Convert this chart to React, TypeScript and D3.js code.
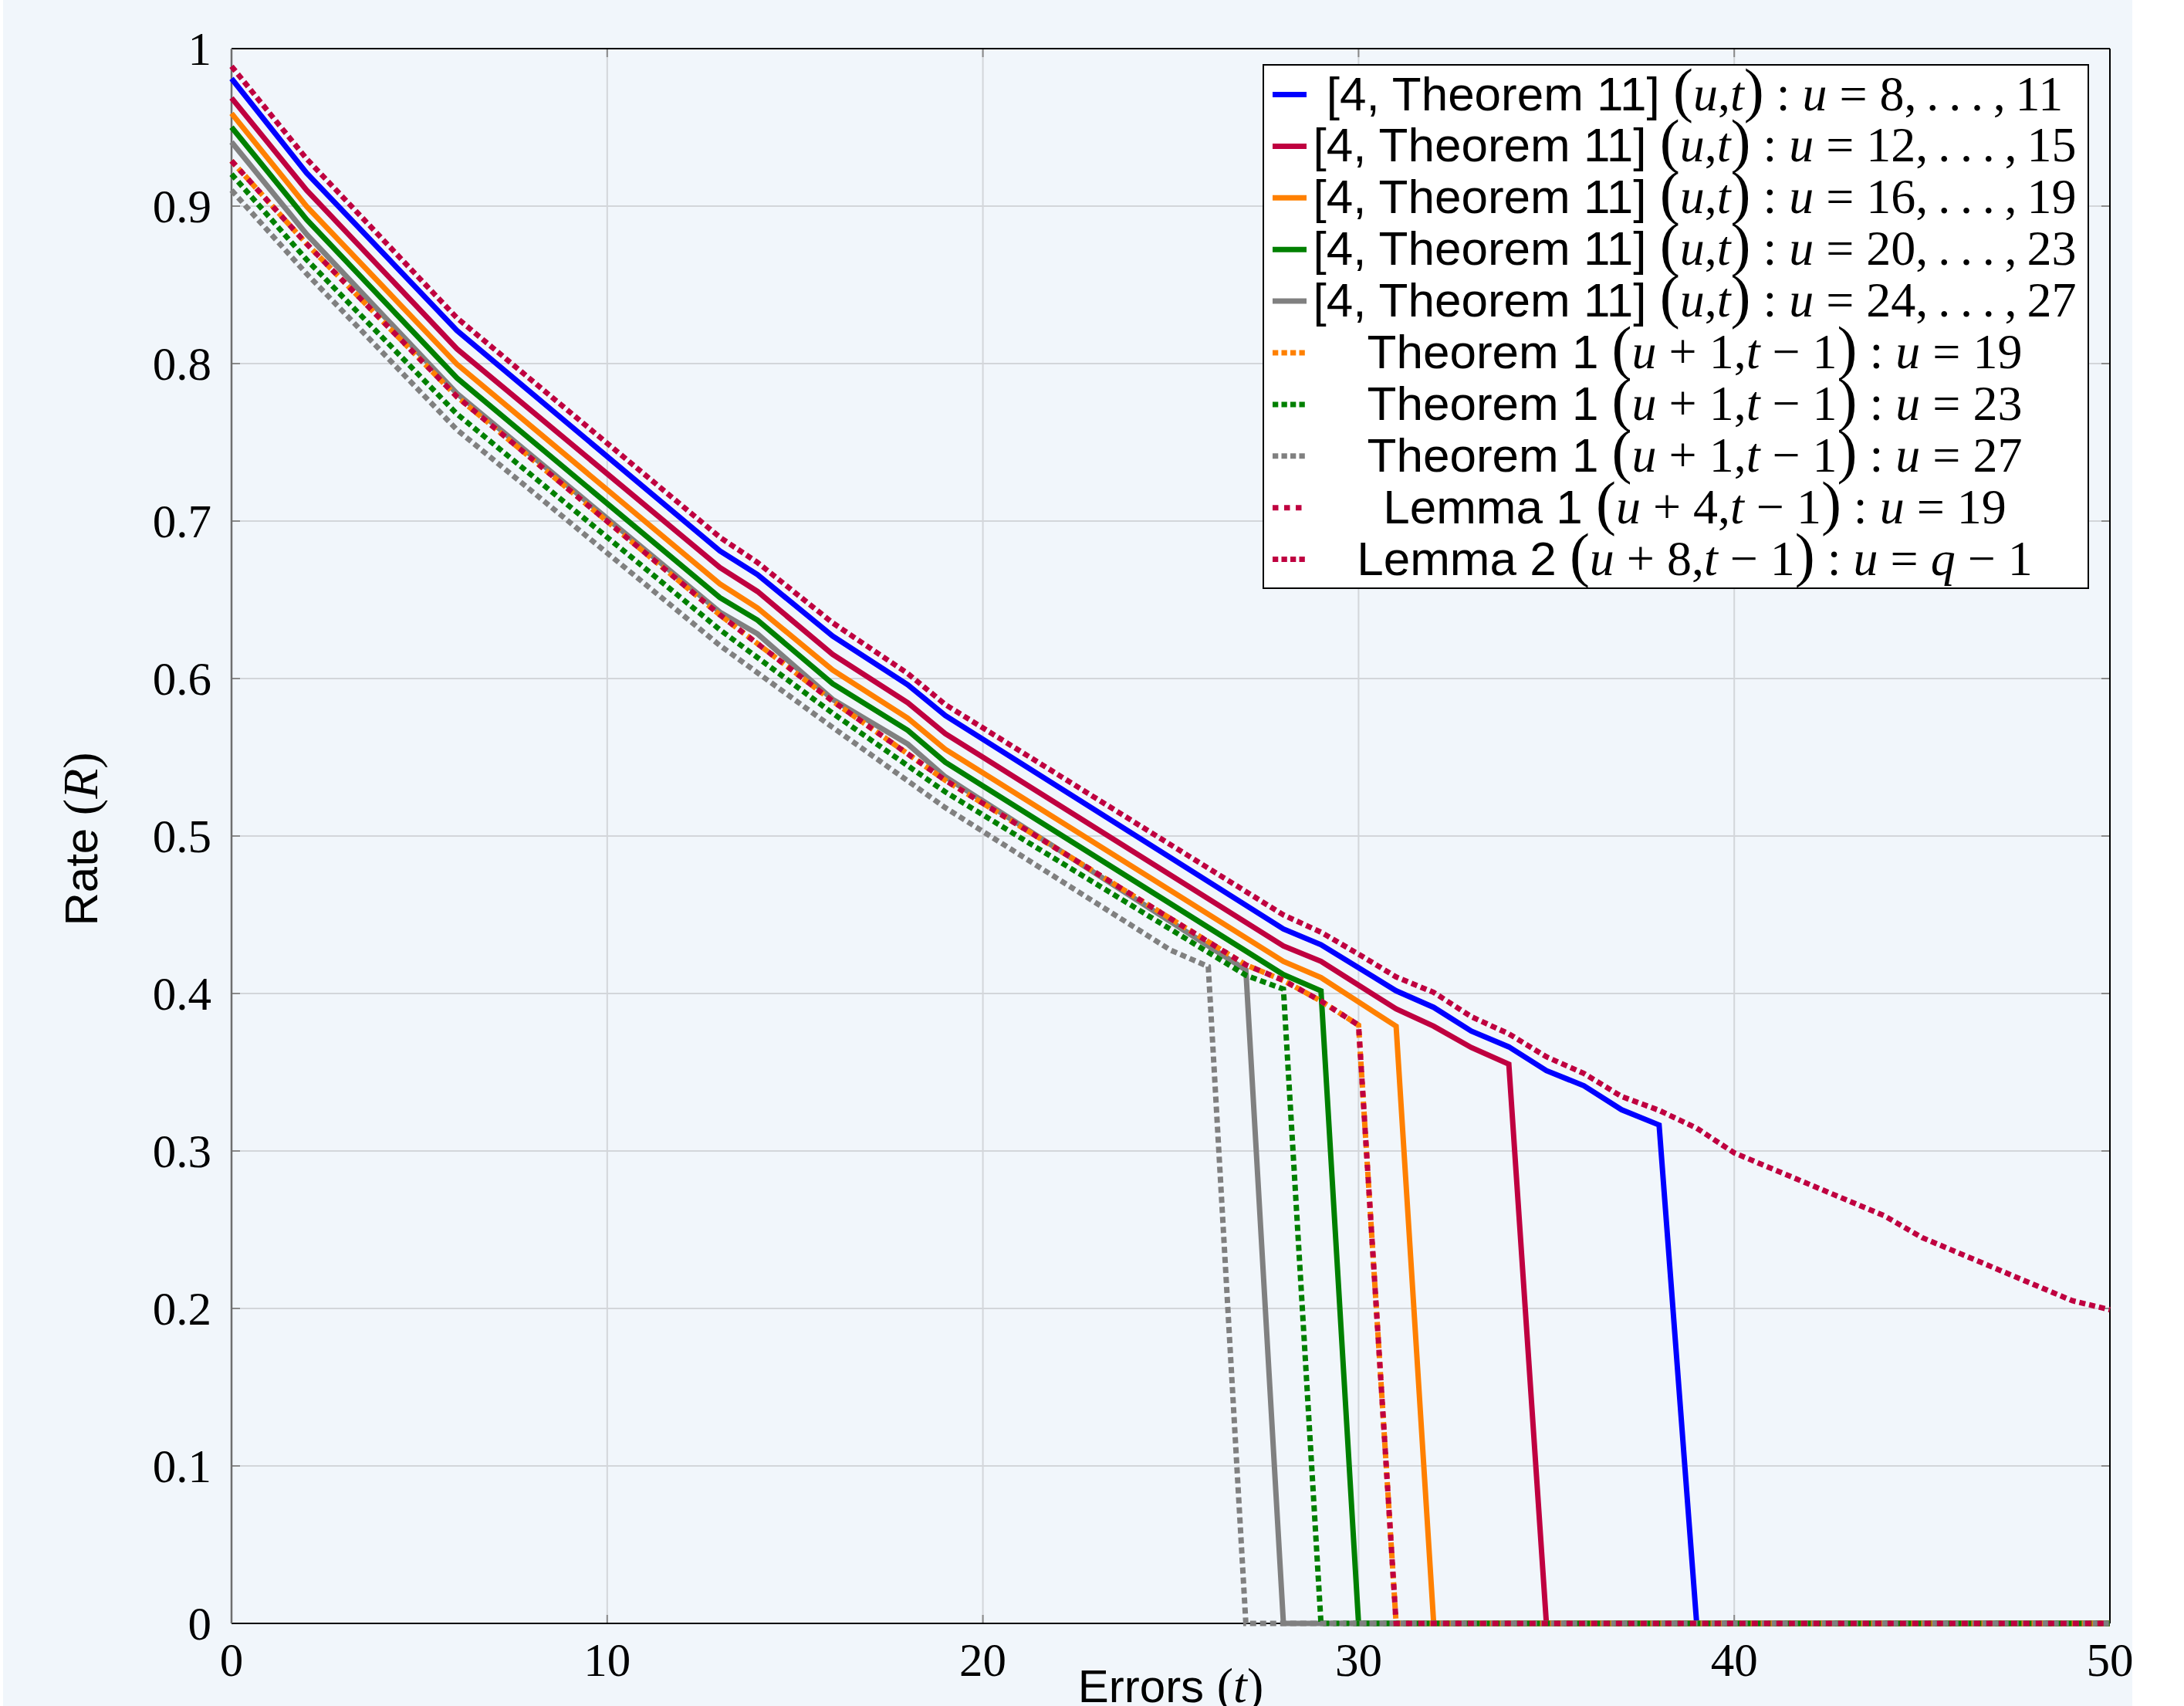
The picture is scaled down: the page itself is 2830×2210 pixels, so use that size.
import React from 'react';
import * as d3 from 'd3';

// ---- data ----
const xTickValues = [0, 10, 20, 30, 40, 50];
const xTickLabels = ['0', '10', '20', '30', '40', '50'];
const yTickValues = [0, 0.1, 0.2, 0.3, 0.4, 0.5, 0.6, 0.7, 0.8, 0.9, 1];
const yTickLabels = ['0', '0.1', '0.2', '0.3', '0.4', '0.5', '0.6', '0.7', '0.8', '0.9', '1'];

// [t, R] vertices of each polyline
const thm11U8to11: [number, number][] = [[0, 0.981], [2, 0.921], [6, 0.821], [13, 0.681], [14, 0.666], [16, 0.627], [18, 0.596], [19, 0.5765], [28, 0.441], [29, 0.431], [31, 0.4017], [32, 0.3912], [33, 0.3761], [34, 0.3661], [35, 0.351], [36, 0.3414], [37, 0.3262], [38, 0.3165], [39, 0], [50, 0]];
const thm11U12to15: [number, number][] = [[0, 0.9687], [2, 0.9101], [6, 0.8094], [13, 0.6705], [14, 0.6553], [16, 0.6153], [18, 0.5846], [19, 0.565], [28, 0.4302], [29, 0.4204], [31, 0.3902], [32, 0.3792], [33, 0.3657], [34, 0.3551], [35, 0], [50, 0]];
const thm11U16to19: [number, number][] = [[0, 0.9589], [2, 0.8998], [6, 0.7996], [13, 0.6601], [14, 0.6448], [16, 0.6054], [18, 0.5748], [19, 0.5551], [28, 0.4204], [29, 0.4101], [31, 0.3792], [32, 0], [50, 0]];
const thm11U20to23: [number, number][] = [[0, 0.9501], [2, 0.8915], [6, 0.7908], [13, 0.6514], [14, 0.6371], [16, 0.5967], [18, 0.5671], [19, 0.5468], [28, 0.412], [29, 0.4017], [30, 0], [50, 0]];
const thm11U24to27: [number, number][] = [[0, 0.9407], [2, 0.8821], [6, 0.781], [13, 0.6422], [14, 0.6284], [16, 0.5868], [18, 0.5584], [19, 0.5376], [27, 0.4149], [28, 0], [50, 0]];
const thm1U19: [number, number][] = [[0, 0.9287], [2, 0.876], [6, 0.779], [13, 0.6404], [16, 0.5857], [19, 0.5354], [27, 0.4182], [28, 0.4083], [29, 0.3952], [30, 0.3799], [31, 0], [50, 0]];
const thm1U23: [number, number][] = [[0, 0.9203], [2, 0.866], [6, 0.768], [13, 0.631], [16, 0.578], [19, 0.528], [27, 0.4116], [28, 0.4028], [29, 0], [50, 0]];
const thm1U27: [number, number][] = [[0, 0.9101], [2, 0.857], [6, 0.758], [13, 0.621], [16, 0.569], [19, 0.518], [25, 0.4275], [26, 0.4171], [27, 0], [50, 0]];
const lemma1U19: [number, number][] = [[0, 0.9287], [2, 0.876], [6, 0.779], [13, 0.6404], [16, 0.5857], [19, 0.5354], [27, 0.4182], [28, 0.4083], [29, 0.3952], [30, 0.3799], [31, 0], [50, 0]];
const lemma2: [number, number][] = [[0, 0.9888], [2, 0.93], [6, 0.829], [13, 0.6897], [14, 0.6737], [16, 0.6354], [18, 0.6032], [19, 0.5835], [28, 0.4499], [29, 0.4389], [30, 0.425], [31, 0.4105], [32, 0.4007], [33, 0.3853], [34, 0.3744], [35, 0.3598], [36, 0.3492], [37, 0.3346], [38, 0.3258], [39, 0.3145], [40, 0.2988], [44, 0.2588], [45, 0.245], [49, 0.2049], [50, 0.1992]];

type Part = [string, 's' | 'r' | 'i' | 'p'];
const thmPrefix: Part[] = [['[4, Theorem 11]\u00a0', 's'], ['(', 'p'], ['u', 'i'], [',', 'r'], ['t', 'i'], [')', 'p'], ['\u00a0:\u00a0', 'r'], ['u', 'i'], ['\u00a0=\u00a0', 'r']];
const dots = ',\u2009.\u2009.\u2009.\u2009,\u2009';

const legendLabels: Part[][] = [
  [...thmPrefix, ['8' + dots + '11', 'r']],
  [...thmPrefix, ['12' + dots + '15', 'r']],
  [...thmPrefix, ['16' + dots + '19', 'r']],
  [...thmPrefix, ['20' + dots + '23', 'r']],
  [...thmPrefix, ['24' + dots + '27', 'r']],
  [['Theorem 1\u00a0', 's'], ['(', 'p'], ['u', 'i'], ['\u00a0+\u00a01,', 'r'], ['t', 'i'], ['\u00a0\u2212\u00a01', 'r'], [')', 'p'], ['\u00a0:\u00a0', 'r'], ['u', 'i'], ['\u00a0=\u00a019', 'r']],
  [['Theorem 1\u00a0', 's'], ['(', 'p'], ['u', 'i'], ['\u00a0+\u00a01,', 'r'], ['t', 'i'], ['\u00a0\u2212\u00a01', 'r'], [')', 'p'], ['\u00a0:\u00a0', 'r'], ['u', 'i'], ['\u00a0=\u00a023', 'r']],
  [['Theorem 1\u00a0', 's'], ['(', 'p'], ['u', 'i'], ['\u00a0+\u00a01,', 'r'], ['t', 'i'], ['\u00a0\u2212\u00a01', 'r'], [')', 'p'], ['\u00a0:\u00a0', 'r'], ['u', 'i'], ['\u00a0=\u00a027', 'r']],
  [['Lemma 1\u00a0', 's'], ['(', 'p'], ['u', 'i'], ['\u00a0+\u00a04,', 'r'], ['t', 'i'], ['\u00a0\u2212\u00a01', 'r'], [')', 'p'], ['\u00a0:\u00a0', 'r'], ['u', 'i'], ['\u00a0=\u00a019', 'r']],
  [['Lemma 2\u00a0', 's'], ['(', 'p'], ['u', 'i'], ['\u00a0+\u00a08,', 'r'], ['t', 'i'], ['\u00a0\u2212\u00a01', 'r'], [')', 'p'], ['\u00a0:\u00a0', 'r'], ['u', 'i'], ['\u00a0=\u00a0', 'r'], ['q', 'i'], ['\u00a0\u2212\u00a01', 'r']],
];

const BLUE = '#0000FF';
const CRIMSON = '#BF0040';
const ORANGE = '#FF8000';
const GREEN = '#008000';
const GRAY = '#808080';

const seriesList = [
  { data: thm11U8to11, color: BLUE, dash: null as string | null },
  { data: thm11U12to15, color: CRIMSON, dash: null },
  { data: thm11U16to19, color: ORANGE, dash: null },
  { data: thm11U20to23, color: GREEN, dash: null },
  { data: thm11U24to27, color: GRAY, dash: null },
  { data: thm1U19, color: ORANGE, dash: '8 5' },
  { data: thm1U23, color: GREEN, dash: '8 5' },
  { data: thm1U27, color: GRAY, dash: '8 5' },
  { data: lemma1U19, color: CRIMSON, dash: '8 8' },
  { data: lemma2, color: CRIMSON, dash: '8 5' },
];

const SANS = '"Liberation Sans", Arial, Helvetica, sans-serif';
const SERIF = '"Liberation Serif", "Times New Roman", serif';

export default function App() {
  const W = 2830, H = 2210;
  const left = 300, right = 2734, top = 63, bottom = 2103;
  const x = d3.scaleLinear().domain([0, 50]).range([left, right]);
  const y = d3.scaleLinear().domain([0, 1]).range([bottom, top]);
  const line = d3.line<[number, number]>().x(d => x(d[0])).y(d => y(d[1]));
  const bg = '#F1F6FB';
  const grid = '#D3D6DA';
  const tickCol = '#8A8A8A';

  const legX = 1637, legY = 84, legW = 1069, legH = 678;
  const rowY0 = 122.5, rowStep = 66.9;
  const textCx = 2196;

  const partStyle = (k: string): React.SVGProps<SVGTSpanElement> => {
    if (k === 's') return { fontFamily: SANS, fontSize: 62 };
    if (k === 'i') return { fontFamily: SERIF, fontSize: 64, fontStyle: 'italic' };
    if (k === 'p') return { fontFamily: SERIF, fontSize: 78 };
    return { fontFamily: SERIF, fontSize: 64 };
  };

  return (
    <div style={{ position: 'absolute', left: 0, top: 0 }}>
      <svg width={W} height={H} viewBox={`0 0 ${W} ${H}`} xmlns="http://www.w3.org/2000/svg">
        <rect x={0} y={0} width={W} height={H} fill="#FFFFFF" />
        <rect x={4} y={0} width={2759} height={H} fill={bg} />
        {/* grid */}
        {xTickValues.filter(v => v > 0 && v < 50).map(v => (
          <line key={'gx' + v} x1={x(v)} x2={x(v)} y1={top} y2={bottom} stroke={grid} strokeWidth={2} />
        ))}
        {yTickValues.filter(v => v > 0 && v < 1).map(v => (
          <line key={'gy' + v} x1={left} x2={right} y1={y(v)} y2={y(v)} stroke={grid} strokeWidth={2} />
        ))}
        {/* ticks inside */}
        {yTickValues.map(v => (
          <g key={'ty' + v}>
            <line x1={left} x2={left + 11} y1={y(v)} y2={y(v)} stroke={tickCol} strokeWidth={2} />
            <line x1={right - 11} x2={right} y1={y(v)} y2={y(v)} stroke={tickCol} strokeWidth={2} />
          </g>
        ))}
        {xTickValues.map(v => (
          <g key={'tx' + v}>
            <line x1={x(v)} x2={x(v)} y1={bottom} y2={bottom - 11} stroke={tickCol} strokeWidth={2} />
            <line x1={x(v)} x2={x(v)} y1={top} y2={top + 11} stroke={tickCol} strokeWidth={2} />
          </g>
        ))}
        {/* frame */}
        <line x1={left} x2={right} y1={top} y2={top} stroke="#000" strokeWidth={2} />
        <line x1={right} x2={right} y1={top} y2={bottom} stroke="#000" strokeWidth={2} />
        <line x1={left} x2={right} y1={bottom} y2={bottom} stroke="#000" strokeWidth={2} />
        <line x1={left} x2={left} y1={top} y2={bottom} stroke="#6E6E6E" strokeWidth={2.5} />
        {/* series */}
        {seriesList.map((s, i) => (
          <path key={'s' + i} d={line(s.data) || ''} fill="none" stroke={s.color} strokeWidth={7}
            strokeDasharray={s.dash || undefined} strokeLinejoin="miter" strokeLinecap="butt" />
        ))}
        {/* tick labels */}
        {yTickValues.map((v, i) => (
          <text key={'yl' + v} x={274} y={y(v) + 21} textAnchor="end" fontFamily={SERIF} fontSize={61} fill="#000">{yTickLabels[i]}</text>
        ))}
        {xTickValues.map((v, i) => (
          <text key={'xl' + v} x={x(v)} y={2171} textAnchor="middle" fontFamily={SERIF} fontSize={61} fill="#000">{xTickLabels[i]}</text>
        ))}
        {/* axis titles */}
        <text x={1517} y={2205} textAnchor="middle" fontSize={60} fill="#000" style={{ whiteSpace: 'pre' }}>
          <tspan fontFamily={SANS}>Errors{'\u00a0'}</tspan>
          <tspan fontFamily={SERIF} fontSize={64}>(</tspan>
          <tspan fontFamily={SERIF} fontStyle="italic" fontSize={64}>t</tspan>
          <tspan fontFamily={SERIF} fontSize={64}>)</tspan>
        </text>
        <text transform="translate(126,1087) rotate(-90)" textAnchor="middle" fontSize={60} fill="#000" style={{ whiteSpace: 'pre' }}>
          <tspan fontFamily={SANS}>Rate{'\u00a0'}</tspan>
          <tspan fontFamily={SERIF} fontSize={64}>(</tspan>
          <tspan fontFamily={SERIF} fontStyle="italic" fontSize={64}>R</tspan>
          <tspan fontFamily={SERIF} fontSize={64}>)</tspan>
        </text>
        {/* legend */}
        <rect x={legX} y={legY} width={legW} height={legH} fill="#FFFFFF" stroke="#000" strokeWidth={2} />
        {seriesList.map((s, i) => {
          const cy = rowY0 + i * rowStep;
          return (
            <g key={'lg' + i}>
              <line x1={1649} x2={1693} y1={cy} y2={cy} stroke={s.color} strokeWidth={7}
                strokeDasharray={s.dash ? (s.dash === '8 8' ? '7.5 7.5' : '7.3 4.2') : undefined} />
              <text x={textCx} y={cy + 20} textAnchor="middle" fill="#000" style={{ whiteSpace: 'pre' }}>
                {legendLabels[i].map((p, j) => (
                  <tspan key={j} {...partStyle(p[1])}>{p[0]}</tspan>
                ))}
              </text>
            </g>
          );
        })}
      </svg>
    </div>
  );
}
